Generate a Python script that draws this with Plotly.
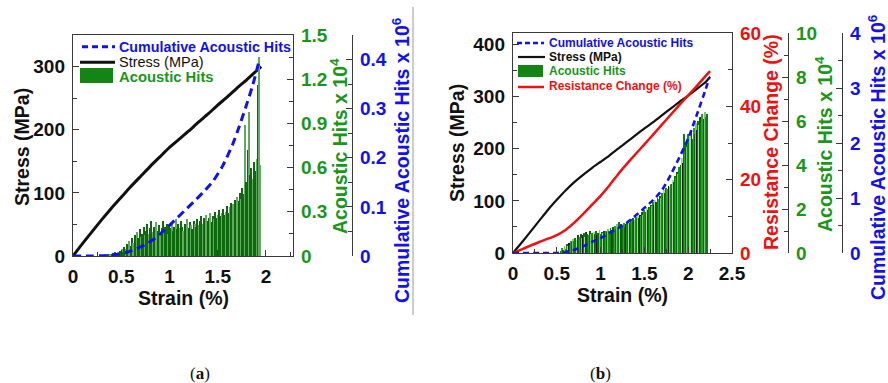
import plotly.graph_objects as go

W, H = 888, 383

# ---------------- panel (a) data ----------------
strain_a = [0, 0.1, 0.2, 0.3, 0.4, 0.5, 0.6, 0.7, 0.8, 0.9, 1.0,
            1.1, 1.2, 1.3, 1.4, 1.5, 1.6, 1.7, 1.8, 1.9, 1.95]
stress_a = [0, 20, 39, 58, 76, 93, 110, 126, 142, 157, 172,
            185, 198, 212, 225, 239, 252, 266, 279, 293, 300]

cum_strain_a = [0, 0.2, 0.35, 0.45, 0.55, 0.65, 0.75, 0.85, 0.95, 1.05,
                1.15, 1.25, 1.35, 1.45, 1.55, 1.65, 1.72, 1.79, 1.86, 1.93]
cum_hits_a = [0, 0, 0.001, 0.003, 0.007, 0.014, 0.023, 0.036, 0.053, 0.072,
              0.091, 0.11, 0.13, 0.152, 0.183, 0.225, 0.262, 0.303, 0.346, 0.398]

hits_a_start = 0.36
hits_a_step = 0.0133
hits_a = [
    0.01, 0.005, 0.015, 0.01, 0.02, 0.012, 0.025, 0.018, 0.03, 0.02,
    0.035, 0.05, 0.03, 0.06, 0.045, 0.08, 0.06, 0.1, 0.07, 0.12,
    0.09, 0.14, 0.11, 0.16, 0.12, 0.18, 0.13, 0.15, 0.2, 0.14,
    0.17, 0.22, 0.15, 0.19, 0.24, 0.16, 0.2, 0.18, 0.23, 0.17,
    0.21, 0.16, 0.19, 0.24, 0.17, 0.2, 0.22, 0.15, 0.21, 0.19,
    0.23, 0.17, 0.2, 0.25, 0.18, 0.22, 0.19, 0.24, 0.2, 0.17,
    0.22, 0.2, 0.25, 0.19, 0.23, 0.21, 0.18, 0.24, 0.22, 0.2,
    0.25, 0.21, 0.24, 0.27, 0.22, 0.26, 0.23, 0.28, 0.24, 0.26,
    0.29, 0.23, 0.27, 0.25, 0.3, 0.26, 0.28, 0.31, 0.27, 0.29,
    0.32, 0.28, 0.3, 0.34, 0.29, 0.33, 0.36, 0.31, 0.35, 0.38,
    0.34, 0.4, 0.37, 0.43, 0.39, 0.46, 0.42, 0.89, 0.5, 0.72,
    0.98, 0.55, 0.6, 0.52, 0.64, 0.58, 0.66, 1.16, 1.35, 0.62,
]

# ---------------- panel (b) data ----------------
strain_b = [0, 0.1, 0.2, 0.3, 0.4, 0.5, 0.6, 0.7, 0.8, 0.9, 1.0, 1.1,
            1.2, 1.3, 1.4, 1.5, 1.6, 1.7, 1.8, 1.9, 2.0, 2.1, 2.2, 2.25]
stress_b = [0, 20, 41, 62, 83, 102, 120, 136, 150, 163, 175, 187,
            200, 213, 226, 239, 251, 264, 277, 290, 302, 315, 328, 338]
resistance_b = [0, 1.0, 2.0, 3.0, 3.9, 4.9, 6.3, 8.3, 10.6, 13.1, 15.6, 18.4,
                21.5, 24.3, 27.0, 29.6, 32.3, 35.0, 37.7, 40.4, 43.0, 45.6, 48.3, 49.6]

cum_strain_b = [0, 0.5, 0.6, 0.7, 0.8, 0.9, 1.0, 1.1, 1.2, 1.3,
                1.4, 1.5, 1.6, 1.7, 1.8, 1.9, 2.0, 2.1, 2.2, 2.24]
cum_hits_b = [0, 0, 0.015, 0.06, 0.12, 0.2, 0.27, 0.36, 0.45, 0.55,
              0.68, 0.82, 0.96, 1.14, 1.42, 1.74, 2.08, 2.52, 2.98, 3.18]

hits_b_start = 0.55
hits_b_step = 0.0125
hits_b = [
    0.1, 0.25, 0.15, 0.3, 0.2, 0.4, 0.3, 0.45, 0.35, 0.55,
    0.5, 0.65, 0.55, 0.7, 0.6, 0.8, 0.65, 0.75, 0.85, 0.7,
    0.8, 0.9, 0.75, 0.95, 0.85, 0.8, 1.0, 0.85, 0.9, 0.78,
    0.95, 0.85, 1.0, 0.8, 0.9, 1.05, 0.85, 0.95, 0.9, 1.0,
    0.88, 1.02, 0.95, 1.1, 1.0, 1.15, 1.05, 1.2, 1.0, 1.25,
    1.1, 1.3, 1.15, 1.42, 1.2, 1.3, 1.25, 1.35, 1.2, 1.3,
    1.4, 1.3, 1.5, 1.35, 1.55, 1.45, 1.6, 1.5, 1.65, 1.55,
    1.7, 1.6, 1.75, 1.7, 1.85, 1.75, 1.95, 1.85, 2.05, 1.95,
    2.1, 2.0, 2.2, 2.15, 2.3, 2.2, 2.4, 2.3, 2.5, 2.45,
    2.6, 2.5, 2.75, 2.65, 2.85, 2.75, 2.95, 2.9, 3.05, 3.0,
    3.15, 3.1, 3.3, 3.25, 3.5, 3.4, 3.7, 3.6, 3.9, 4.0,
    4.3, 4.1, 5.4, 4.5, 5.0, 4.8, 5.4, 5.0, 5.3, 5.6,
    5.2, 5.7, 5.4, 5.9, 5.6, 6.0, 5.8, 6.2, 5.9, 6.3,
    6.1, 6.4, 6.2, 6.3,
]

# ---------------- styling ----------------
FONT = "Arial, Liberation Sans, sans-serif"
SERIF = "Times New Roman, Liberation Serif, serif"
BLACK = "#111111"
RED = "#ee1111"
GREEN = "#1a961a"
BLUE = "#1111ee"
AXIS = "#3a3a3a"


def px(x):
    return x / W


def py(y):
    return 1 - y / H


hits_a_x = [hits_a_start + hits_a_step * i for i in range(len(hits_a))]
hits_b_x = [hits_b_start + hits_b_step * i for i in range(len(hits_b))]

dark_a, light_a = "#0c6a0c", "#62aa62"
colors_a = [light_a if (i % 3 == 2 or i == len(hits_a) - 2) else dark_a
            for i in range(len(hits_a))]
pal_b = ["#0a7d0a", "#2aa02a", "#0a6a0a", "#7cc47c", "#169216",
         "#0a7d0a", "#a6d6a6", "#0c5c0c"]
colors_b = ["#1c1c1c" if i % 13 == 7 else pal_b[i % len(pal_b)]
            for i in range(len(hits_b))]

fig = go.Figure()

# panel (a)
fig.add_trace(go.Scatter(x=strain_a, y=stress_a, xaxis="x", yaxis="y",
                         mode="lines", line=dict(color=BLACK, width=3, shape="spline", smoothing=0.5)))
fig.add_trace(go.Bar(x=hits_a_x, y=hits_a, xaxis="x", yaxis="y2", width=0.0122,
                     marker=dict(color=colors_a, line=dict(width=0))))
fig.add_trace(go.Scatter(x=cum_strain_a, y=cum_hits_a, xaxis="x", yaxis="y3",
                         mode="lines", line=dict(color=BLUE, width=3, dash="8px,5px",
                                                 shape="spline", smoothing=0.5)))

# panel (b)
fig.add_trace(go.Scatter(x=strain_b, y=stress_b, xaxis="x2", yaxis="y4",
                         mode="lines", line=dict(color=BLACK, width=2.2, shape="spline", smoothing=0.5)))
fig.add_trace(go.Scatter(x=strain_b, y=resistance_b, xaxis="x2", yaxis="y5",
                         mode="lines", line=dict(color=RED, width=2.5, shape="spline", smoothing=0.5)))
fig.add_trace(go.Bar(x=hits_b_x, y=hits_b, xaxis="x2", yaxis="y6", width=0.0105,
                     marker=dict(color=colors_b, line=dict(width=0))))
fig.add_trace(go.Scatter(x=cum_strain_b, y=cum_hits_b, xaxis="x2", yaxis="y7",
                         mode="lines", line=dict(color=BLUE, width=2.6, dash="6px,4px",
                                                 shape="spline", smoothing=0.5)))


def tfont(color, size=19):
    return dict(family=FONT, size=size, color=color, weight="bold")


def axis_common(color, dtick, minor, **kw):
    d = dict(showline=True, linecolor=AXIS, linewidth=1.4, ticks="inside",
             ticklen=6, tickwidth=1.2, tickcolor=AXIS, dtick=dtick, tick0=0,
             minor=dict(dtick=minor, ticks="inside", ticklen=3.5, tickwidth=1, tickcolor=AXIS),
             tickfont=tfont(color), showgrid=False, zeroline=False,
             ticklabelstandoff=3, fixedrange=True, automargin=False)
    d.update(kw)
    return d


layout = dict(
    width=W, height=H, margin=dict(l=0, r=0, t=0, b=0, pad=0, autoexpand=False),
    paper_bgcolor="white", plot_bgcolor="rgba(0,0,0,0)",
    showlegend=False, barmode="overlay", bargap=0,
    xaxis=axis_common(BLACK, 0.5, 0.25, domain=[px(73), px(293)], range=[0, 2.28],
                      anchor="y", mirror=True),
    yaxis=axis_common(BLACK, 100, 50, domain=[py(256), py(35)], range=[0, 350],
                      anchor="x", mirror=True),
    yaxis2=axis_common(GREEN, 0.3, 0.15, range=[0, 1.5], overlaying="y",
                       anchor="x", side="right"),
    yaxis3=axis_common(BLUE, 0.1, 0.05, range=[0, 0.45], overlaying="y",
                       anchor="free", position=px(352), side="right"),
    xaxis2=axis_common(BLACK, 0.5, 0.25, domain=[px(513), px(732)], range=[0, 2.5],
                       anchor="y4", mirror=True),
    yaxis4=axis_common(BLACK, 100, 50, domain=[py(253), py(33)], range=[0, 422],
                       anchor="x2", mirror=True),
    yaxis5=axis_common(RED, 20, 10, range=[0, 60], overlaying="y4",
                       anchor="x2", side="right"),
    yaxis6=axis_common(GREEN, 2, 1, range=[0, 10], overlaying="y4",
                       anchor="free", position=px(788), side="right"),
    yaxis7=axis_common(BLUE, 1, 0.5, range=[0, 4], overlaying="y4",
                       anchor="free", position=px(842), side="right"),
)
fig.update_layout(**layout)

# axis titles
titles = [
    ("Stress (MPa)", 22, 147, BLACK, -90),
    ("Strain (%)", 183, 297.5, BLACK, 0),
    ("Acoustic Hits x 10<sup>4</sup>", 339, 146, GREEN, -90),
    ("Cumulative Acoustic Hits x 10<sup>6</sup>", 401, 160, BLUE, -90),
    ("Stress (MPa)", 457, 143, BLACK, -90),
    ("Strain (%)", 622, 295, BLACK, 0),
    ("Resistance Change (%)", 771, 142, RED, -90),
    ("Acoustic Hits x 10<sup>4</sup>", 824, 144, GREEN, -90),
    ("Cumulative Acoustic Hits x 10<sup>6</sup>", 877, 157, BLUE, -90),
]
for text, x, y, color, ang in titles:
    fig.add_annotation(text=text, x=px(x), y=py(y), xref="paper", yref="paper",
                       xanchor="center", yanchor="middle", textangle=ang,
                       showarrow=False, font=tfont(color, 19.5))

# hand-placed legends
def legend_text(text, x, y, color, size, bold=True):
    f = dict(family=FONT, size=size, color=color, weight="bold" if bold else "normal")
    fig.add_annotation(text=text, x=px(x), y=py(y), xref="paper", yref="paper",
                       xanchor="left", yanchor="middle", showarrow=False, font=f)


def legend_line(x0, x1, y, color, width, dash=None):
    fig.add_shape(type="line", xref="paper", yref="paper",
                  x0=px(x0), x1=px(x1), y0=py(y), y1=py(y),
                  line=dict(color=color, width=width, dash=dash))


def legend_box(x0, x1, y0, y1, color):
    fig.add_shape(type="rect", xref="paper", yref="paper",
                  x0=px(x0), x1=px(x1), y0=py(y0), y1=py(y1),
                  fillcolor=color, line=dict(width=0))


legend_line(82, 115, 46.7, BLUE, 3, "6px,4px")
legend_line(80, 115, 62.3, BLACK, 3)
legend_box(80, 113, 68, 83, "#148414")
legend_text("Cumulative Acoustic Hits", 117, 46.7, BLUE, 14.3)
legend_text("Stress (MPa)", 117, 62.3, BLACK, 14.5, bold=False)
legend_text("Acoustic Hits", 117, 76.7, GREEN, 14.8)

legend_line(517, 544, 43, BLUE, 2.6, "5px,3px")
legend_line(518, 545, 57, BLACK, 2.2)
legend_box(518, 543, 65, 77, "#148414")
legend_line(518, 544, 87, RED, 2.5)
legend_text("Cumulative Acoustic Hits", 547, 43, BLUE, 12)
legend_text("Stress (MPa)", 547, 57, BLACK, 12)
legend_text("Acoustic Hits", 547, 71.3, GREEN, 12)
legend_text("Resistance Change (%)", 547, 86.3, RED, 12)

# divider between the two panels
fig.add_shape(type="line", xref="paper", yref="paper",
              x0=px(413), x1=px(413), y0=py(7), y1=py(315),
              line=dict(color="#9a9a9a", width=1))

# panel captions
for text, x in (("(<b>a</b>)", 200), ("(<b>b</b>)", 600)):
    fig.add_annotation(text=text, x=px(x), y=py(373), xref="paper", yref="paper",
                       xanchor="center", yanchor="middle", showarrow=False,
                       font=dict(family=SERIF, size=17, color="#111111"))

fig.write_html("out.html")
